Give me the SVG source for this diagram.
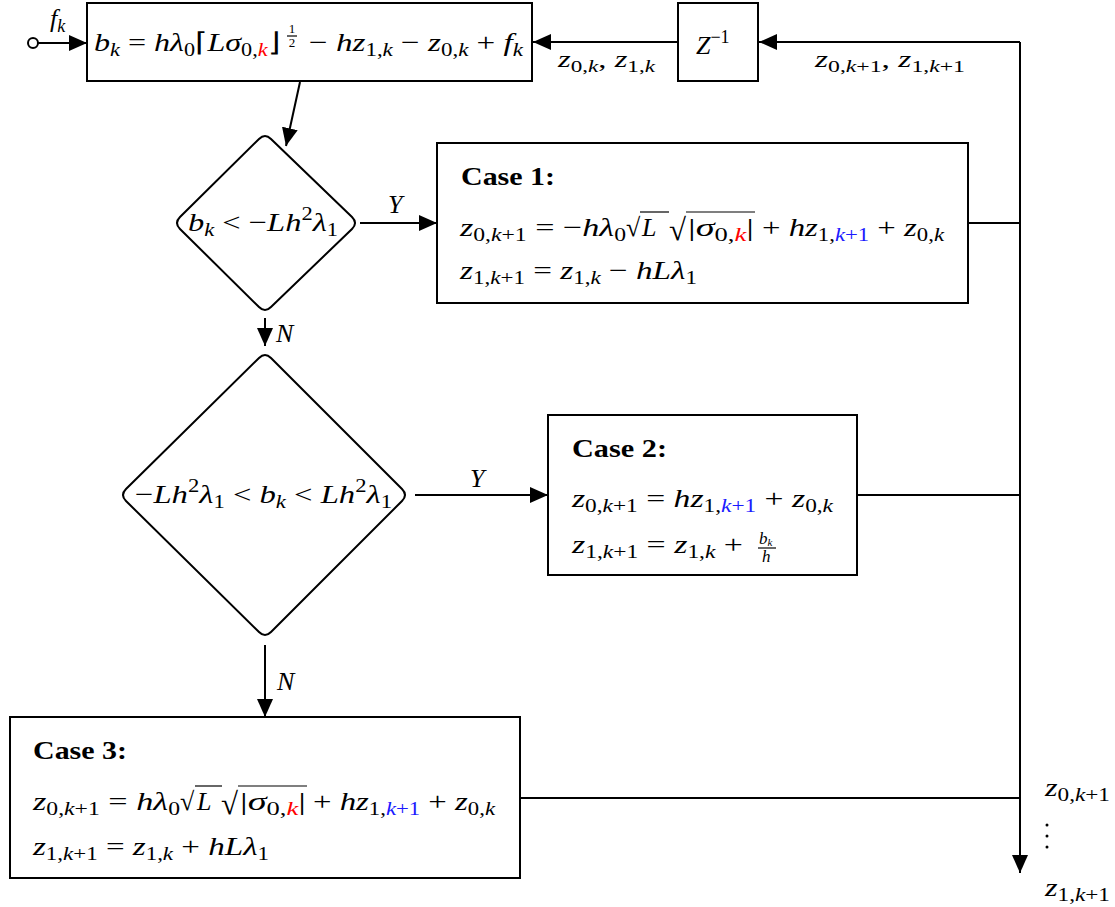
<svg xmlns="http://www.w3.org/2000/svg" width="1115" height="907" viewBox="0 0 1115 907">
<defs>
<style>
.m{font-family:"Liberation Serif",serif;font-style:italic;font-size:26px;fill:#000}
.u{font-style:normal}
.s{font-size:18px}
.b{font-family:"Liberation Serif",serif;font-weight:bold;font-size:25px;fill:#000}
.box{fill:#fff;stroke:#000;stroke-width:2}
.ln{fill:none;stroke:#000;stroke-width:2}
.vin{stroke:#000;stroke-width:1.2}
.r{fill:#ff0000}
.bl{fill:#1a1aff}
</style>
<marker id="ah" markerUnits="userSpaceOnUse" markerWidth="18" markerHeight="16" refX="18" refY="8" orient="auto">
<path d="M0,0 L18,8 L0,16 z" fill="#000"/>
</marker>
</defs>
<rect width="1115" height="907" fill="#fff"/>

<g id="connectors">
<circle cx="33" cy="43" r="5" class="ln"/>
<line x1="38" y1="43" x2="87" y2="43" class="ln" marker-end="url(#ah)"/>
<line x1="678" y1="42" x2="533" y2="42" class="ln" marker-end="url(#ah)"/>
<line x1="1020" y1="42" x2="759" y2="42" class="ln" marker-end="url(#ah)"/>
<line x1="1020" y1="42" x2="1020" y2="873" class="ln" marker-end="url(#ah)"/>
<line x1="300" y1="82" x2="286" y2="146" class="ln" marker-end="url(#ah)"/>
<line x1="360" y1="223" x2="437" y2="223" class="ln" marker-end="url(#ah)"/>
<line x1="265" y1="318" x2="265" y2="346" class="ln" marker-end="url(#ah)"/>
<line x1="415" y1="495" x2="548" y2="495" class="ln" marker-end="url(#ah)"/>
<line x1="265" y1="645" x2="265" y2="717" class="ln" marker-end="url(#ah)"/>
<line x1="968" y1="223" x2="1020" y2="223" class="ln"/>
<line x1="857" y1="495" x2="1020" y2="495" class="ln"/>
<line x1="520" y1="798" x2="1020" y2="798" class="ln"/>
<text class="m" x="50" y="27">f<tspan class="s" dy="5">k</tspan></text>
<text class="m" x="558" y="67" textLength="97" lengthAdjust="spacingAndGlyphs" style="font-size:24px">z<tspan style="font-size:17px" dy="5"><tspan class="u">0,</tspan>k</tspan><tspan class="u" dy="-5">, </tspan>z<tspan style="font-size:17px" dy="5"><tspan class="u">1,</tspan>k</tspan></text>
<text class="m" x="815" y="67" textLength="150" lengthAdjust="spacingAndGlyphs" style="font-size:24px">z<tspan style="font-size:17px" dy="5"><tspan class="u">0,</tspan>k<tspan class="u">+1</tspan></tspan><tspan class="u" dy="-5">, </tspan>z<tspan style="font-size:17px" dy="5"><tspan class="u">1,</tspan>k<tspan class="u">+1</tspan></tspan></text>
<text class="m" x="388" y="213">Y</text>
<text class="m" x="470" y="487">Y</text>
<text class="m" x="276" y="342">N</text>
<text class="m" x="277" y="690">N</text>
</g>

<g id="compute_b">
<rect x="87" y="3" width="445" height="78" class="box"/>
<text class="m" x="94" y="51" textLength="186" lengthAdjust="spacingAndGlyphs">b<tspan class="s" dy="5">k</tspan><tspan class="u" dy="-5"> = </tspan>hλ<tspan class="s u" dy="5">0</tspan><tspan class="u" dy="-5">⌈</tspan>Lσ<tspan class="s" dy="5"><tspan class="u">0,</tspan><tspan class="r">k</tspan></tspan><tspan class="u" dy="-5">⌋</tspan></text>
<text class="m u" x="292" y="33" style="font-size:13px" text-anchor="middle">1</text>
<line x1="287" y1="36" x2="297" y2="36" class="vin"/>
<text class="m u" x="292" y="47" style="font-size:13px" text-anchor="middle">2</text>
<text class="m" x="309" y="51" textLength="214" lengthAdjust="spacingAndGlyphs"><tspan class="u">− </tspan>hz<tspan class="s" dy="5"><tspan class="u">1,</tspan>k</tspan><tspan class="u" dy="-5"> − </tspan>z<tspan class="s" dy="5"><tspan class="u">0,</tspan>k</tspan><tspan class="u" dy="-5"> + </tspan>f<tspan class="s" dy="5">k</tspan></text>
</g>

<g id="delay">
<rect x="678" y="3" width="80" height="78" class="box"/>
<text class="m" x="696" y="54">Z<tspan class="s u" dy="-11">−1</tspan></text>
</g>

<g id="decision1">
<path d="M259,139 Q265,133 271,139 L352,217 Q358,223 352,229 L271,307 Q265,313 259,307 L180,229 Q174,223 180,217 Z" class="ln" fill="#fff"/>
<text class="m" x="188" y="231" textLength="150" lengthAdjust="spacingAndGlyphs">b<tspan class="s" dy="5">k</tspan><tspan class="u" dy="-5"> &lt; −</tspan>Lh<tspan class="s u" dy="-11">2</tspan><tspan dy="11">λ</tspan><tspan class="s u" dy="5">1</tspan></text>
</g>

<g id="case1">
<rect x="437" y="143" width="531" height="160" class="box"/>
<text class="b" x="461" y="185" textLength="94" lengthAdjust="spacingAndGlyphs">Case 1:</text>
<text class="m" x="460" y="236" textLength="166" lengthAdjust="spacingAndGlyphs">z<tspan class="s" dy="5"><tspan class="u">0,</tspan>k<tspan class="u">+1</tspan></tspan><tspan class="u" dy="-5"> = −</tspan>hλ<tspan class="s u" dy="5">0</tspan></text>
<text class="m u" x="626" y="236">√</text>
<text class="m" x="642" y="236">L</text>
<line x1="640" y1="212" x2="669" y2="212" class="vin"/>
<text class="m u" x="669" y="240" style="font-size:31px">√</text>
<text class="m" x="688" y="236" textLength="66" lengthAdjust="spacingAndGlyphs"><tspan class="u">|</tspan>σ<tspan class="s" dy="5"><tspan class="u">0,</tspan><tspan class="r">k</tspan></tspan><tspan class="u" dy="-5">|</tspan></text>
<line x1="686" y1="212" x2="755" y2="212" class="vin"/>
<text class="m" x="762" y="236" textLength="182" lengthAdjust="spacingAndGlyphs"><tspan class="u">+ </tspan>hz<tspan class="s" dy="5"><tspan class="u">1,</tspan><tspan class="bl">k</tspan><tspan class="u bl">+1</tspan></tspan><tspan class="u" dy="-5"> + </tspan>z<tspan class="s" dy="5"><tspan class="u">0,</tspan>k</tspan></text>
<text class="m" x="460" y="279" textLength="237" lengthAdjust="spacingAndGlyphs">z<tspan class="s" dy="5"><tspan class="u">1,</tspan>k<tspan class="u">+1</tspan></tspan><tspan class="u" dy="-5"> = </tspan>z<tspan class="s" dy="5"><tspan class="u">1,</tspan>k</tspan><tspan class="u" dy="-5"> − </tspan>hLλ<tspan class="s u" dy="5">1</tspan></text>
</g>

<g id="decision2">
<path d="M259,358 Q265,352 271,358 L402,489 Q408,495 402,501 L271,632 Q265,638 259,632 L126,501 Q120,495 126,489 Z" class="ln" fill="#fff"/>
<text class="m" x="135" y="503" textLength="257" lengthAdjust="spacingAndGlyphs"><tspan class="u">−</tspan>Lh<tspan class="s u" dy="-11">2</tspan><tspan dy="11">λ</tspan><tspan class="s u" dy="5">1</tspan><tspan class="u" dy="-5"> &lt; </tspan>b<tspan class="s" dy="5">k</tspan><tspan class="u" dy="-5"> &lt; </tspan>Lh<tspan class="s u" dy="-11">2</tspan><tspan dy="11">λ</tspan><tspan class="s u" dy="5">1</tspan></text>
</g>

<g id="case2">
<rect x="548" y="415" width="309" height="160" class="box"/>
<text class="b" x="572" y="457" textLength="95" lengthAdjust="spacingAndGlyphs">Case 2:</text>
<text class="m" x="572" y="507" textLength="261" lengthAdjust="spacingAndGlyphs">z<tspan class="s" dy="5"><tspan class="u">0,</tspan>k<tspan class="u">+1</tspan></tspan><tspan class="u" dy="-5"> = </tspan>hz<tspan class="s" dy="5"><tspan class="u">1,</tspan><tspan class="bl">k</tspan><tspan class="u bl">+1</tspan></tspan><tspan class="u" dy="-5"> + </tspan>z<tspan class="s" dy="5"><tspan class="u">0,</tspan>k</tspan></text>
<text class="m" x="572" y="553" textLength="171" lengthAdjust="spacingAndGlyphs">z<tspan class="s" dy="5"><tspan class="u">1,</tspan>k<tspan class="u">+1</tspan></tspan><tspan class="u" dy="-5"> = </tspan>z<tspan class="s" dy="5"><tspan class="u">1,</tspan>k</tspan><tspan class="u" dy="-5"> +</tspan></text>
<text class="m" x="759" y="544" style="font-size:17px">b<tspan style="font-size:11px" dy="2">k</tspan></text>
<line x1="758" y1="548" x2="776" y2="548" class="vin"/>
<text class="m" x="762" y="562" style="font-size:17px">h</text>
</g>

<g id="case3">
<rect x="10" y="717" width="510" height="161" class="box"/>
<text class="b" x="33" y="759" textLength="94" lengthAdjust="spacingAndGlyphs">Case 3:</text>
<text class="m" x="33" y="810" textLength="147" lengthAdjust="spacingAndGlyphs">z<tspan class="s" dy="5"><tspan class="u">0,</tspan>k<tspan class="u">+1</tspan></tspan><tspan class="u" dy="-5"> = </tspan>hλ<tspan class="s u" dy="5">0</tspan></text>
<text class="m u" x="180" y="810">√</text>
<text class="m" x="197" y="810">L</text>
<line x1="195" y1="786" x2="222" y2="786" class="vin"/>
<text class="m u" x="221" y="814" style="font-size:31px">√</text>
<text class="m" x="240" y="810" textLength="66" lengthAdjust="spacingAndGlyphs"><tspan class="u">|</tspan>σ<tspan class="s" dy="5"><tspan class="u">0,</tspan><tspan class="r">k</tspan></tspan><tspan class="u" dy="-5">|</tspan></text>
<line x1="238" y1="786" x2="307" y2="786" class="vin"/>
<text class="m" x="313" y="810" textLength="182" lengthAdjust="spacingAndGlyphs"><tspan class="u">+ </tspan>hz<tspan class="s" dy="5"><tspan class="u">1,</tspan><tspan class="bl">k</tspan><tspan class="u bl">+1</tspan></tspan><tspan class="u" dy="-5"> + </tspan>z<tspan class="s" dy="5"><tspan class="u">0,</tspan>k</tspan></text>
<text class="m" x="33" y="855" textLength="236" lengthAdjust="spacingAndGlyphs">z<tspan class="s" dy="5"><tspan class="u">1,</tspan>k<tspan class="u">+1</tspan></tspan><tspan class="u" dy="-5"> = </tspan>z<tspan class="s" dy="5"><tspan class="u">1,</tspan>k</tspan><tspan class="u" dy="-5"> + </tspan>hLλ<tspan class="s u" dy="5">1</tspan></text>
</g>

<g id="output">
<text class="m" x="1045" y="796" textLength="65" lengthAdjust="spacingAndGlyphs" style="font-size:25px">z<tspan style="font-size:18px" dy="5"><tspan class="u">0,</tspan>k<tspan class="u">+1</tspan></tspan></text>
<circle cx="1047" cy="825" r="1.5" fill="#000"/>
<circle cx="1047" cy="836" r="1.5" fill="#000"/>
<circle cx="1047" cy="847" r="1.5" fill="#000"/>
<text class="m" x="1045" y="896" textLength="65" lengthAdjust="spacingAndGlyphs" style="font-size:25px">z<tspan style="font-size:18px" dy="5"><tspan class="u">1,</tspan>k<tspan class="u">+1</tspan></tspan></text>
</g>
</svg>
